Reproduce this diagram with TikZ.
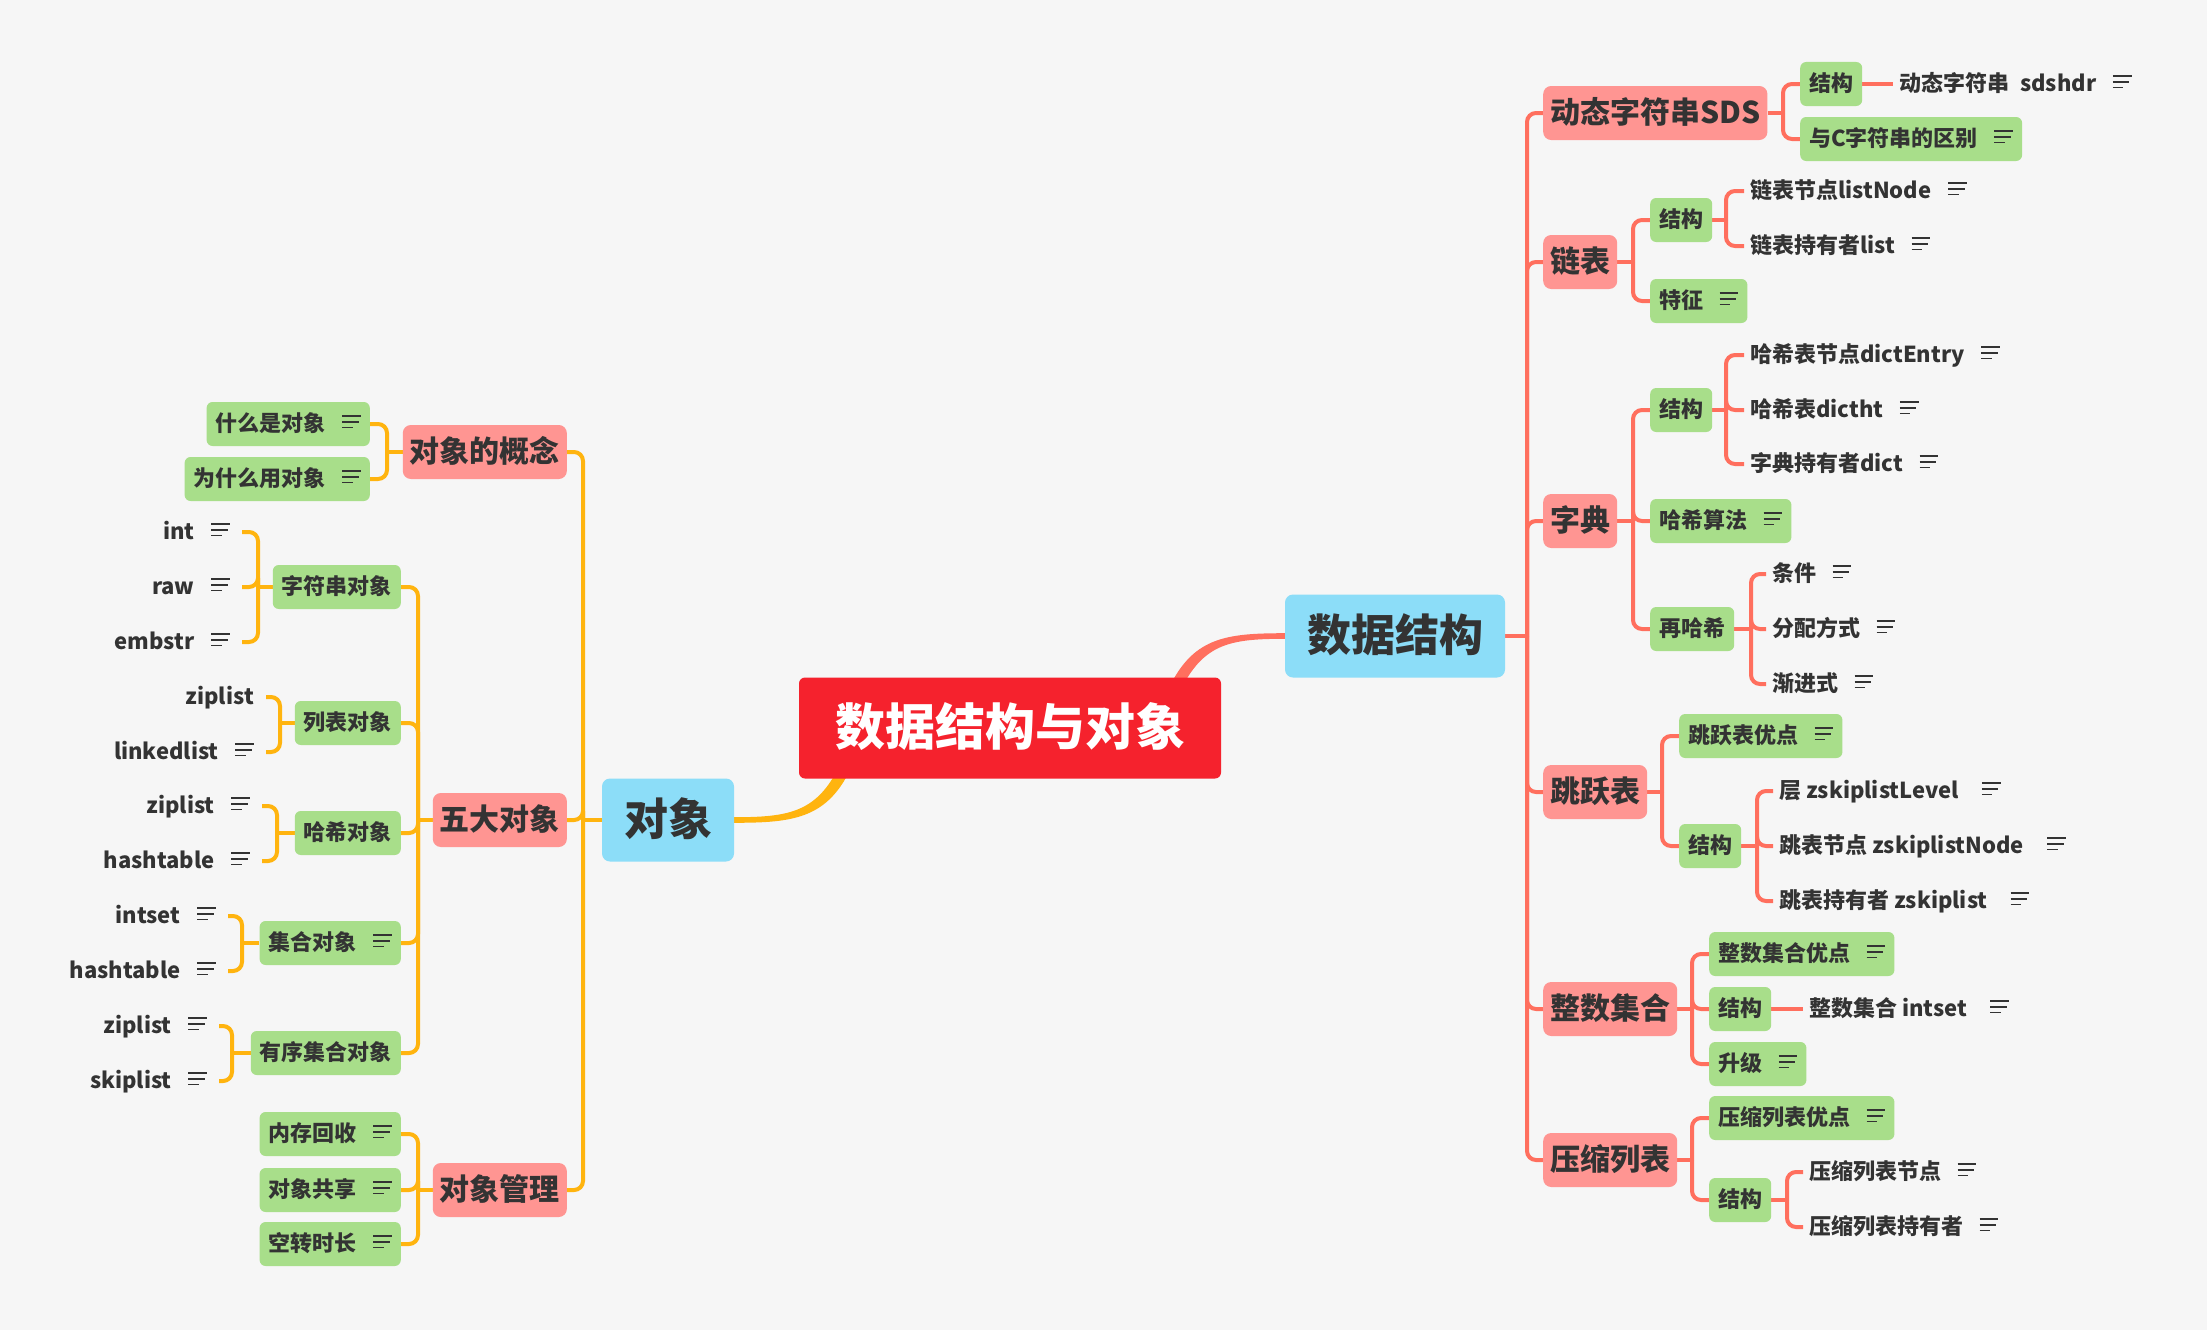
\documentclass[tikz,border=0pt]{standalone}
\usepackage{fontspec}
\setmainfont{Noto Sans CJK SC}
\usetikzlibrary{calc,backgrounds}
\definecolor{bgc}{HTML}{F6F6F6}
\definecolor{cred}{HTML}{F5222D}
\definecolor{cblue}{HTML}{8CDDF8}
\definecolor{cpink}{HTML}{FF9592}
\definecolor{cgreen}{HTML}{A8DE8A}
\definecolor{rcol}{HTML}{FF6F5E}
\definecolor{lcol}{HTML}{FFB40F}
\definecolor{txt}{HTML}{333333}
\newcommand\memo{\hspace{0.75em}\makebox[0.85em][l]{\rlap{\rule[0.66em]{0.85em}{0.08em}}\rlap{\rule[0.40em]{0.75em}{0.08em}}\rule[0.14em]{0.48em}{0.08em}}}
\tikzset{
  rootbox/.style={fill=cred, rounded corners=6, text=white, font=\fontsize{50}{60}\selectfont\bfseries, inner xsep=36, inner ysep=4, text height=43, text depth=8, minimum height=101},
  bluebox/.style={fill=cblue, rounded corners=8, text=txt, font=\fontsize{44}{52}\selectfont\bfseries, inner xsep=22, inner ysep=4, text height=38, text depth=7, minimum height=83},
  pinkbox/.style={fill=cpink, rounded corners=8, text=txt, font=\fontsize{30}{36}\selectfont\bfseries, inner xsep=7, inner ysep=3, text height=26, text depth=5, minimum height=54},
  gbox/.style={fill=cgreen, rounded corners=6, text=txt, font=\fontsize{22}{26}\selectfont\bfseries, inner xsep=9, inner ysep=3, text height=19, text depth=4, minimum height=44},
  rleaf/.style={text=txt, font=\fontsize{22}{26}\selectfont\bfseries, inner xsep=6, inner ysep=2, text height=19, text depth=4, anchor=west},
  lleaf/.style={text=txt, font=\fontsize{22}{26}\selectfont\bfseries, inner xsep=12, inner ysep=2, text height=19, text depth=4, anchor=east},
  rl/.style={draw=rcol, line width=4},
  ll/.style={draw=lcol, line width=4},
  rc/.style={rounded corners=9},
}
\begin{document}
\begin{tikzpicture}[x=1pt,y=-1pt]
\useasboundingbox (0,0) rectangle (2207,1330);
% ---------- main nodes
\node[rootbox] (root) at (1010,728) {数据结构与对象};
\node[bluebox] (ds) at (1395,636) {数据结构};
\node[bluebox] (obj) at (668,820) {对象};
% ---------- right level 1
\node[pinkbox,anchor=west] (sds) at (1543,113) {动态字符串SDS};
\node[pinkbox,anchor=west] (lst) at (1543,262) {链表};
\node[pinkbox,anchor=west] (dic) at (1543,521) {字典};
\node[pinkbox,anchor=west] (skp) at (1543,792) {跳跃表};
\node[pinkbox,anchor=west] (ist) at (1543,1009) {整数集合};
\node[pinkbox,anchor=west] (zip) at (1543,1160) {压缩列表};
\coordinate (tR) at (1527,636);
% SDS
\coordinate (bsds) at (1783,113);
\node[gbox,anchor=west] (sdsS) at (1800,84) {结构};
\node[gbox,anchor=west] (sdsC) at (1800,139) {与C字符串的区别\memo};
\node[rleaf] (sdsL) at (1893,84) {动态字符串\hspace{0.5em}sdshdr\memo};
% list
\coordinate (blst) at (1633,262);
\node[gbox,anchor=west] (llS) at (1650,220) {结构};
\node[gbox,anchor=west] (llF) at (1650,301) {特征\memo};
\coordinate (bllS) at (1726,220);
\node[rleaf] (llA) at (1744,191) {链表节点listNode\memo};
\node[rleaf] (llB) at (1744,246) {链表持有者list\memo};
% dict
\coordinate (bdic) at (1633,521);
\node[gbox,anchor=west] (dS) at (1650,410) {结构};
\node[gbox,anchor=west] (dH) at (1650,521) {哈希算法\memo};
\node[gbox,anchor=west] (dR) at (1650,629) {再哈希};
\coordinate (bdS) at (1726,410);
\node[rleaf] (dA) at (1744,355) {哈希表节点dictEntry\memo};
\node[rleaf] (dB) at (1744,410) {哈希表dictht\memo};
\node[rleaf] (dC) at (1744,464) {字典持有者dict\memo};
\coordinate (bdR) at (1751,629);
\node[rleaf] (rA) at (1766,574) {条件\memo};
\node[rleaf] (rB) at (1766,629) {分配方式\memo};
\node[rleaf] (rC) at (1766,684) {渐进式\memo};
% skiplist
\coordinate (bskp) at (1662,792);
\node[gbox,anchor=west] (kA) at (1679,736) {跳跃表优点\memo};
\node[gbox,anchor=west] (kS) at (1679,846) {结构};
\coordinate (bkS) at (1757,846);
\node[rleaf] (kL1) at (1773,791) {层 zskiplistLevel\hspace{0.3em}\memo};
\node[rleaf] (kL2) at (1773,846) {跳表节点 zskiplistNode\hspace{0.3em}\memo};
\node[rleaf] (kL3) at (1773,901) {跳表持有者 zskiplist\hspace{0.3em}\memo};
% intset
\coordinate (bist) at (1692,1009);
\node[gbox,anchor=west] (iA) at (1709,954) {整数集合优点\memo};
\node[gbox,anchor=west] (iS) at (1709,1009) {结构};
\node[gbox,anchor=west] (iU) at (1709,1064) {升级\memo};
\node[rleaf] (iL) at (1803,1009) {整数集合 intset\hspace{0.3em}\memo};
% ziplist
\coordinate (bzip) at (1692,1160);
\node[gbox,anchor=west] (zA) at (1709,1118) {压缩列表优点\memo};
\node[gbox,anchor=west] (zS) at (1709,1200) {结构};
\coordinate (bzS) at (1787,1200);
\node[rleaf] (zL1) at (1803,1172) {压缩列表节点\memo};
\node[rleaf] (zL2) at (1803,1227) {压缩列表持有者\memo};
% ---------- left level 1
\coordinate (tL) at (583,820);
\node[pinkbox,anchor=east] (con) at (567,452) {对象的概念};
\node[pinkbox,anchor=east] (five) at (567,820) {五大对象};
\node[pinkbox,anchor=east] (mgt) at (567,1190) {对象管理};
% concept
\coordinate (bcon) at (387,452);
\node[gbox,anchor=east] (cA) at (370,424) {什么是对象\memo};
\node[gbox,anchor=east] (cB) at (370,479) {为什么用对象\memo};
% five
\coordinate (bfive) at (418,820);
\node[gbox,anchor=east] (fS) at (401,587) {字符串对象};
\node[gbox,anchor=east] (fL) at (401,723) {列表对象};
\node[gbox,anchor=east] (fH) at (401,833) {哈希对象};
\node[gbox,anchor=east] (fSet) at (401,943) {集合对象\memo};
\node[gbox,anchor=east] (fZ) at (401,1053) {有序集合对象};
\coordinate (bfS) at (258,587);
\node[lleaf] (sI) at (242,532) {int\memo};
\node[lleaf] (sR) at (242,587) {raw\memo};
\node[lleaf] (sE) at (242,642) {embstr\memo};
\coordinate (bfL) at (280,723);
\node[lleaf] (lZ) at (266,697) {ziplist};
\node[lleaf] (lL) at (266,752) {linkedlist\memo};
\coordinate (bfH) at (277,833);
\node[lleaf] (hZ) at (262,806) {ziplist\memo};
\node[lleaf] (hH) at (262,861) {hashtable\memo};
\coordinate (bfSet) at (242,943);
\node[lleaf] (eI) at (228,916) {intset\memo};
\node[lleaf] (eH) at (228,971) {hashtable\memo};
\coordinate (bfZ) at (232,1053);
\node[lleaf] (oZ) at (219,1026) {ziplist\memo};
\node[lleaf] (oS) at (219,1081) {skiplist\memo};
% management
\coordinate (bmgt) at (418,1190);
\node[gbox,anchor=east] (m1) at (401,1134) {内存回收\memo};
\node[gbox,anchor=east] (m2) at (401,1190) {对象共享\memo};
\node[gbox,anchor=east] (m3) at (401,1244) {空转时长\memo};
% ---------- connectors
\begin{pgfonlayer}{background}
\fill[bgc] (0,0) rectangle (2207,1330);
% tapered main branches
\fill[rcol] ($(root.north)+(164,1)$) .. controls +(24,-42) and +(-55,0) .. ($(ds.west)+(1,-2.8)$) -- ($(ds.west)+(1,2.8)$) .. controls +(-50,0) and +(22,-36) .. ($(root.north)+(177,1)$) -- cycle;
\fill[lcol] ($(root.south)+(-164,-1)$) .. controls +(-24,42) and +(55,0) .. ($(obj.east)+(-1,2.8)$) -- ($(obj.east)+(-1,-2.8)$) .. controls +(50,0) and +(-22,36) .. ($(root.south)+(-177,-1)$) -- cycle;
% right trunk
\draw[rl] (ds.east) -- (tR);
\foreach \n in {sds,lst,dic,skp,ist,zip} \draw[rl,rc] (tR) |- (\n.west);
\draw[rl] (sds.east) -- (bsds);
\foreach \n in {sdsS,sdsC} \draw[rl,rc] (bsds) |- (\n.west);
\draw[rl] (sdsS.east) -- (sdsL.west);
\draw[rl] (lst.east) -- (blst);
\foreach \n in {llS,llF} \draw[rl,rc] (blst) |- (\n.west);
\draw[rl] (llS.east) -- (bllS);
\foreach \n in {llA,llB} \draw[rl,rc] (bllS) |- (\n.west);
\draw[rl] (dic.east) -- (bdic);
\foreach \n in {dS,dH,dR} \draw[rl,rc] (bdic) |- (\n.west);
\draw[rl] (dS.east) -- (bdS);
\foreach \n in {dA,dB,dC} \draw[rl,rc] (bdS) |- (\n.west);
\draw[rl] (dR.east) -- (bdR);
\foreach \n in {rA,rB,rC} \draw[rl,rc] (bdR) |- (\n.west);
\draw[rl] (skp.east) -- (bskp);
\foreach \n in {kA,kS} \draw[rl,rc] (bskp) |- (\n.west);
\draw[rl] (kS.east) -- (bkS);
\foreach \n in {kL1,kL2,kL3} \draw[rl,rc] (bkS) |- (\n.west);
\draw[rl] (ist.east) -- (bist);
\foreach \n in {iA,iS,iU} \draw[rl,rc] (bist) |- (\n.west);
\draw[rl] (iS.east) -- (iL.west);
\draw[rl] (zip.east) -- (bzip);
\foreach \n in {zA,zS} \draw[rl,rc] (bzip) |- (\n.west);
\draw[rl] (zS.east) -- (bzS);
\foreach \n in {zL1,zL2} \draw[rl,rc] (bzS) |- (\n.west);
% left trunk
\draw[ll] (obj.west) -- (tL);
\foreach \n in {con,five,mgt} \draw[ll,rc] (tL) |- (\n.east);
\draw[ll] (con.west) -- (bcon);
\foreach \n in {cA,cB} \draw[ll,rc] (bcon) |- (\n.east);
\draw[ll] (five.west) -- (bfive);
\foreach \n in {fS,fL,fH,fSet,fZ} \draw[ll,rc] (bfive) |- (\n.east);
\draw[ll] (fS.west) -- (bfS);
\foreach \n in {sI,sR,sE} \draw[ll,rc] (bfS) |- (\n.east);
\draw[ll] (fL.west) -- (bfL);
\foreach \n in {lZ,lL} \draw[ll,rc] (bfL) |- (\n.east);
\draw[ll] (fH.west) -- (bfH);
\foreach \n in {hZ,hH} \draw[ll,rc] (bfH) |- (\n.east);
\draw[ll] (fSet.west) -- (bfSet);
\foreach \n in {eI,eH} \draw[ll,rc] (bfSet) |- (\n.east);
\draw[ll] (fZ.west) -- (bfZ);
\foreach \n in {oZ,oS} \draw[ll,rc] (bfZ) |- (\n.east);
\draw[ll] (mgt.west) -- (bmgt);
\foreach \n in {m1,m2,m3} \draw[ll,rc] (bmgt) |- (\n.east);
\end{pgfonlayer}
\end{tikzpicture}
\end{document}
